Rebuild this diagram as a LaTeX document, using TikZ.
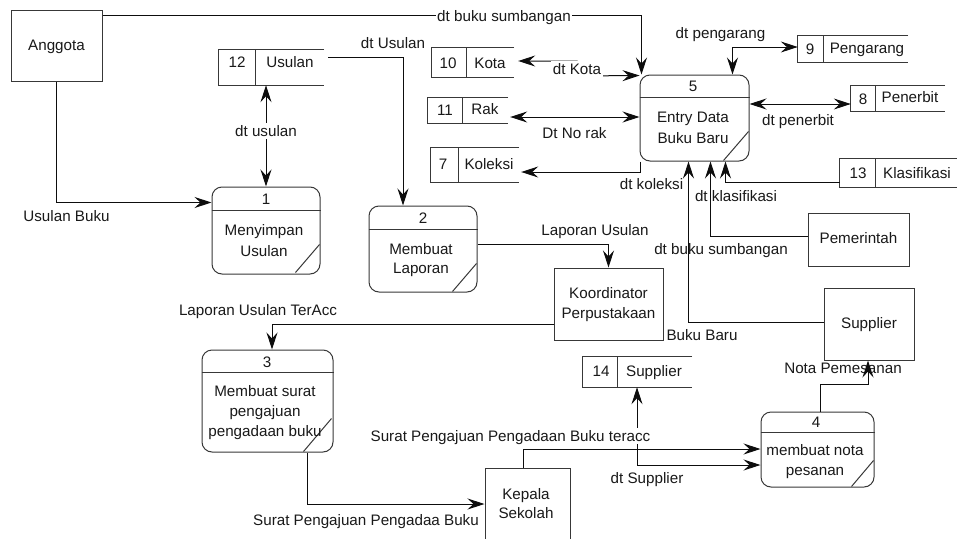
\documentclass[tikz,border=0pt]{standalone}
\usepackage{fontspec}
\setmainfont{Liberation Sans}
\usetikzlibrary{arrows.meta,calc}
\definecolor{boxc}{gray}{0.22}
\definecolor{linec}{gray}{0.05}
\newcommand\dstore[2]{%
  \draw[boxline] (#1.north east) -- (#1.north west) -- (#1.south west) -- (#1.south east);
  \draw[boxline] ($(#1.north west)+(#2,0)$) -- ($(#1.south west)+(#2,0)$);}
\begin{document}
\begin{tikzpicture}[x=1pt,y=-1pt,
  lbl/.style={inner sep=0pt, text height=10.9pt, text depth=0pt, text=black!90, font=\fontsize{15.2pt}{18pt}\selectfont},
  wlbl/.style={lbl, fill=white, inner xsep=1.5pt, inner ysep=2.5pt},
  boxline/.style={draw=boxc, line width=1pt},
  proc/.style={draw=boxc, line width=1pt, rounded corners=10pt, inner sep=0pt},
  ent/.style={draw=boxc, line width=1pt, inner sep=0pt},
  store/.style={draw=none, inner sep=0pt},
  flow/.style={draw=linec, line width=1pt, arrows={-Stealth[length=17pt,width=11pt,inset=6pt]}},
  bflow/.style={draw=linec, line width=1pt, arrows={Stealth[length=17pt,width=11pt,inset=6pt]-Stealth[length=17pt,width=11pt,inset=6pt]}}
]
\useasboundingbox[fill=white] (0,0) rectangle (957,538);

% ---------- external entities
\node[ent, minimum width=91pt, minimum height=71pt] (ang) at (56.5,45.5) {};
\node[lbl] (angt) at (56.5,45) {Anggota};
\node[ent, minimum width=109pt, minimum height=72pt] (koor) at (608.5,304) {};
\node[lbl] (koort1) at (608.5,293) {Koordinator};
\node[lbl] (koort2) at (608.5,313) {Perpustakaan};
\node[ent, minimum width=101pt, minimum height=53pt] (pem) at (858.5,239.5) {};
\node[lbl] (pemt) at (858.5,238) {Pemerintah};
\node[ent, minimum width=90pt, minimum height=72pt] (sup) at (869,324) {};
\node[lbl] (supt) at (869,323) {Supplier};
\node[ent, minimum width=85pt, minimum height=74pt] (kep) at (527.5,505) {};
\node[lbl] (kept1) at (526,494) {Kepala};
\node[lbl] (kept2) at (526,513) {Sekolah};

% ---------- processes
\node[proc, minimum width=108pt, minimum height=87pt] (p1) at (266,230.5) {};
\draw[boxline] ($(p1.north west)+(0,24)$) -- ($(p1.north east)+(0,24)$);
\draw[boxline] ($(p1.south east)+(-25,-2)$) -- ($(p1.south east)+(-1,-30)$);
\node[lbl] (p1n) at (266,199) {1};
\node[lbl] (p1a) at (264,230) {Menyimpan};
\node[lbl] (p1b) at (264,251) {Usulan};

\node[proc, minimum width=108pt, minimum height=86pt] (p2) at (423,249) {};
\draw[boxline] ($(p2.north west)+(0,24)$) -- ($(p2.north east)+(0,24)$);
\draw[boxline] ($(p2.south east)+(-25,-1)$) -- ($(p2.south east)+(-1,-29)$);
\node[lbl] (p2n) at (423,218) {2};
\node[lbl] (p2a) at (421,249) {Membuat};
\node[lbl] (p2b) at (421,268) {Laporan};

\node[proc, minimum width=131pt, minimum height=102pt] (p3) at (267.5,401) {};
\draw[boxline] ($(p3.north west)+(0,23)$) -- ($(p3.north east)+(0,23)$);
\draw[boxline] ($(p3.south east)+(-30,-1)$) -- ($(p3.south east)+(-2,-34)$);
\node[lbl] (p3n) at (267,362) {3};
\node[lbl] (p3a) at (265,391) {Membuat surat};
\node[lbl] (p3b) at (265,411) {pengajuan};
\node[lbl] (p3c) at (265,431) {pengadaan buku};

\node[proc, minimum width=113pt, minimum height=75pt] (p4) at (817.5,449.5) {};
\draw[boxline] ($(p4.north west)+(0,21)$) -- ($(p4.north east)+(0,21)$);
\draw[boxline] ($(p4.south east)+(-23,-1)$) -- ($(p4.south east)+(-1,-27)$);
\node[lbl] (p4n) at (816,422) {4};
\node[lbl] (p4a) at (815,450) {membuat nota};
\node[lbl] (p4b) at (815,470) {pesanan};

\node[proc, minimum width=109pt, minimum height=86pt] (p5) at (694.5,118) {};
\draw[boxline] ($(p5.north west)+(0,23)$) -- ($(p5.north east)+(0,23)$);
\draw[boxline] ($(p5.south east)+(-26,-1)$) -- ($(p5.south east)+(-1,-30)$);
\node[lbl] (p5n) at (693,86) {5};
\node[lbl] (p5a) at (693,117) {Entry Data};
\node[lbl] (p5b) at (693,138) {Buku Baru};

% ---------- data stores
\node[store, minimum width=105pt, minimum height=35pt] (s12) at (271.5,67.5) {};
\dstore{s12}{37}
\node[lbl] (s12n) at (237,62) {12};
\node[lbl] (s12t) at (290,62) {Usulan};

\node[store, minimum width=82pt, minimum height=29pt] (s10) at (473,62.5) {};
\dstore{s10}{35}
\node[lbl] (s10n) at (448,63) {10};
\node[lbl] (s10t) at (490,63) {Kota};

\node[store, minimum width=80pt, minimum height=25pt] (s11) at (468,110.5) {};
\dstore{s11}{35}
\node[lbl] (s11n) at (445,110) {11};
\node[lbl] (s11t) at (485,109) {Rak};

\node[store, minimum width=88pt, minimum height=34pt] (s7) at (475,165) {};
\dstore{s7}{28}
\node[lbl] (s7n) at (443,164) {7};
\node[lbl] (s7t) at (489,164) {Koleksi};

\node[store, minimum width=110pt, minimum height=26pt] (s9) at (853,49) {};
\dstore{s9}{26}
\node[lbl] (s9n) at (810,49) {9};
\node[lbl] (s9t) at (867,48) {Pengarang};

\node[store, minimum width=94pt, minimum height=25pt] (s8) at (898,98.5) {};
\dstore{s8}{25}
\node[lbl] (s8n) at (863,99) {8};
\node[lbl] (s8t) at (910,97) {Penerbit};

\node[store, minimum width=117pt, minimum height=28pt] (s13) at (898.5,173) {};
\dstore{s13}{36}
\node[lbl] (s13n) at (858,173) {13};
\node[lbl] (s13t) at (917,173) {Klasifikasi};

\node[store, minimum width=109pt, minimum height=30pt] (s14) at (637.5,372) {};
\dstore{s14}{35}
\node[lbl] (s14n) at (601,371) {14};
\node[lbl] (s14t) at (654,371) {Supplier};

% ---------- flows
\draw[flow] ($(ang.north east)+(0,6)$) -| ($(p5.north west)+(2,0)$);
\node[wlbl] (l1) at (504,16) {dt buku sumbangan};

\draw[bflow] ($(s10.east)+(4,-1.5)$) -- ++(59,0) -- ++(0,15) -- ($(p5.north west)+(0,1)$);
\node[wlbl] (l2) at (577,69) {dt Kota};

\draw[bflow] ($(s11.east)+(2,6.5)$) -- ($(p5.west)+(0,-1)$);
\node[lbl] (l3) at (574.5,133) {Dt No rak};

\draw[flow] ($(p5.south west)+(1,0)$) |- ($(s7.east)+(2,7)$);
\node[lbl] (l4) at (651.5,184) {dt koleksi};

\draw[bflow] ($(s9.west)+(0,-2)$) -| ($(p5.north west)+(93,0)$);
\node[lbl] (l5) at (720.5,33) {dt pengarang};

\draw[bflow] ($(p5.east)+(0,-14)$) -- ($(s8.west)+(0,5.5)$);
\node[lbl] (l6) at (798,120) {dt penerbit};

\draw[flow] ($(s13.west)+(0,9)$) -| ($(p5.south west)+(86,0)$);
\node[lbl] (l7) at (736,196) {dt klasifikasi};

\draw[flow] ($(pem.west)+(0,-3.5)$) -| ($(p5.south west)+(71,0)$);
\node[lbl] (l8) at (721,249) {dt buku sumbangan};

\draw[flow] ($(sup.west)+(0,-2)$) -| ($(p5.south west)+(49,0)$);
\node[lbl] (l9) at (702,335) {Buku Baru};

\draw[bflow] (s12.south -| p1.north) -- (p1.north);
\node[wlbl] (l10) at (266,131) {dt usulan};

\draw[flow] (ang.south) |- ($(p1.north west)+(0,16)$);
\node[lbl] (l11) at (66.5,216) {Usulan Buku};

\draw[flow] ($(s12.east)+(4,-10.5)$) -| ($(p2.north)+(-20,0)$);
\node[lbl] (l12) at (393,43) {dt Usulan};

\draw[flow] ($(p2.east)+(0,-5)$) -| (koor.north);
\node[lbl] (l13) at (595,230) {Laporan Usulan};

\draw[flow] ($(koor.west)+(0,20)$) -| ($(p3.north)+(4.5,0)$);
\node[lbl] (l14) at (258,310) {Laporan Usulan TerAcc};

\draw[flow] ($(p3.south)+(39.5,0)$) |- ($(kep.west)+(0,-1)$);
\node[lbl] (l15) at (366,520) {Surat Pengajuan Pengadaa Buku};

\draw[bflow] ($(p4.west)+(0,15.5)$) -| ($(s14.south)+(-0.5,0)$);
\node[lbl] (l17) at (647,478) {dt Supplier};

\draw[flow] ($(kep.north)+(-4.5,0)$) |- ($(p4.west)+(0,-0.5)$);
\node[wlbl] (l16) at (510.5,436) {Surat Pengajuan Pengadaan Buku teracc};

\node[lbl] (l18) at (843,368) {Nota Pemesanan};
\draw[flow] ($(p4.north)+(2.5,0)$) |- ($(sup.south)+(-1,24)$) -- ($(sup.south)+(-1,0)$);
\end{tikzpicture}
\end{document}
